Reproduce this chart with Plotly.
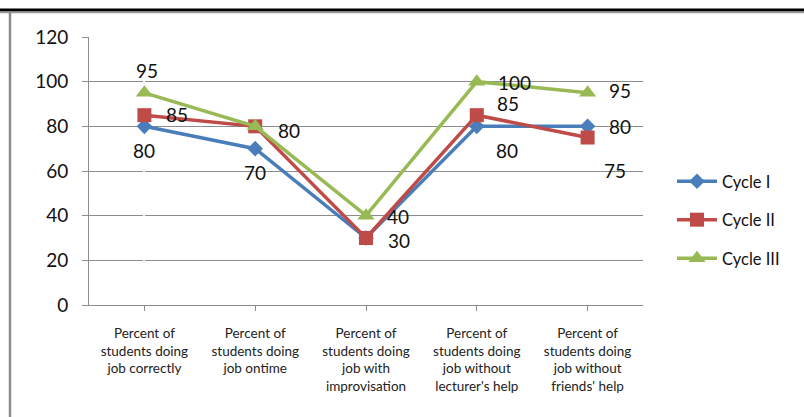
import plotly.graph_objects as go

# Categories and series values
categories = [
    "Percent of<br>students doing<br>job correctly",
    "Percent of<br>students doing<br>job ontime",
    "Percent of<br>students doing<br>job with<br>improvisation",
    "Percent of<br>students doing<br>job without<br>lecturer's help",
    "Percent of<br>students doing<br>job without<br>friends' help",
]
cycle_1 = [80, 70, 30, 80, 80]
cycle_2 = [85, 80, 30, 85, 75]
cycle_3 = [95, 80, 40, 100, 95]
y_ticks = [0, 20, 40, 60, 80, 100, 120]

W, H = 804, 417
L, R, T, B = 89, 161, 37, 112
FONT = "Lato"

fig = go.Figure()

series = [
    ("Cycle I", cycle_1, "#4A7EBB", "diamond", 12),
    ("Cycle II", cycle_2, "#BE4B48", "square", 14),
    ("Cycle III", cycle_3, "#98B954", "triangle-up", 15),
]
for name, vals, col, sym, ms in series:
    fig.add_trace(go.Scatter(
        x=list(range(len(categories))), y=vals, name=name,
        legendgroup=name,
        mode="lines+markers",
        line=dict(color=col, width=3.5),
        marker=dict(symbol=sym, size=ms, color=col),
    ))

# Data labels: (series values, point index, x shift, y shift)
label_spec = [
    (cycle_1, 0, 0, -24), (cycle_1, 1, 0, -24), (cycle_1, 3, 30, -24), (cycle_1, 4, 32, 0),
    (cycle_2, 0, 33, 1), (cycle_2, 1, 34, -4), (cycle_2, 2, 33, -2),
    (cycle_2, 3, 31, 12), (cycle_2, 4, 27, -33),
    (cycle_3, 0, 3, 22), (cycle_3, 2, 32, -1), (cycle_3, 3, 38, -1), (cycle_3, 4, 32, 2),
]
for vals, i, dx, dy in label_spec:
    fig.add_annotation(
        x=i, y=vals[i], text=str(vals[i]), showarrow=False,
        xshift=dx, yshift=dy, font=dict(family=FONT, size=19, color="#111"),
    )

def px_x(p):
    return (p - L) / (W - L - R)

def px_y(p):
    return 1 - (p - T) / (H - T - B)

# Frame: dark rule along the top and a grey rule down the left edge
fig.add_shape(type="line", xref="paper", yref="paper",
              x0=px_x(0), x1=px_x(W), y0=px_y(10), y1=px_y(10),
              line=dict(color="#000", width=3))
fig.add_shape(type="line", xref="paper", yref="paper",
              x0=px_x(0), x1=px_x(W), y0=px_y(12.5), y1=px_y(12.5),
              line=dict(color="#999", width=1.5))
fig.add_shape(type="line", xref="paper", yref="paper",
              x0=px_x(10), x1=px_x(10), y0=px_y(12), y1=px_y(H),
              line=dict(color="#8c8c8c", width=2.5))

fig.update_layout(
    width=W, height=H,
    margin=dict(l=L, r=R, t=T, b=B, autoexpand=False),
    paper_bgcolor="white", plot_bgcolor="white",
    font=dict(family=FONT, color="#111"),
    showlegend=True,
    legend=dict(
        x=px_x(672), y=px_y(164), xanchor="left", yanchor="top",
        font=dict(family=FONT, size=16.5, color="#111"),
        tracegroupgap=14, itemwidth=40, bgcolor="rgba(0,0,0,0)",
    ),
    xaxis=dict(
        range=[-0.5, len(categories) - 0.5],
        tickmode="array", tickvals=list(range(len(categories))), ticktext=categories,
        tickson="boundaries", ticks="outside", ticklen=5, tickcolor="#8c8c8c",
        showline=True, linecolor="#8c8c8c", linewidth=1, showgrid=False,
        tickfont=dict(family=FONT, size=13.5, color="#222"), tickangle=0,
        ticklabelstandoff=11,
    ),
    yaxis=dict(
        range=[0, 120], tickvals=y_ticks,
        ticks="outside", ticklen=6, tickcolor="#8c8c8c",
        showline=True, linecolor="#8c8c8c", linewidth=1,
        showgrid=True, gridcolor="#8c8c8c", gridwidth=1, zeroline=False,
        tickfont=dict(family=FONT, size=19, color="#111"),
        ticklabelstandoff=10,
    ),
)

fig.write_html("out.html")
